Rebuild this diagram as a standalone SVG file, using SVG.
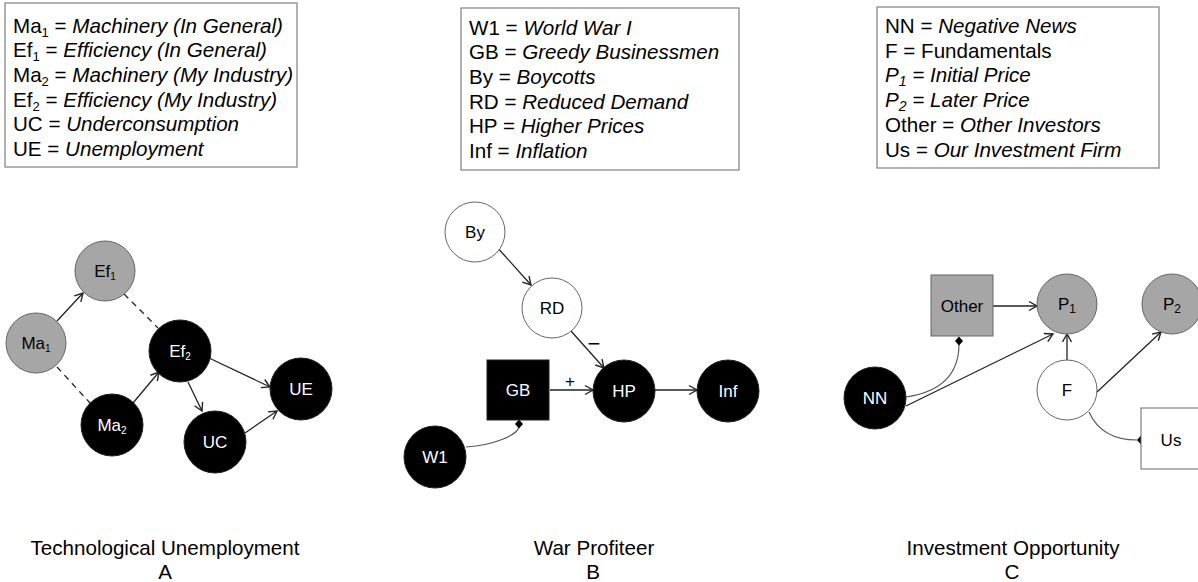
<svg xmlns="http://www.w3.org/2000/svg" width="1198" height="582" viewBox="0 0 1198 582">
<style>
  text { font-family: "Liberation Sans", Arial, sans-serif; fill: #000; }
  .legend { font-size: 20.6px; }
  .it { font-style: italic; }
  .box { fill: #fff; stroke: #7f7f7f; stroke-width: 1.2; }
  .gray { fill: #a6a6a6; stroke: #666; stroke-width: 1; }
  .white { fill: #fff; stroke: #666; stroke-width: 1; }
  .black { fill: #000; stroke: #222; stroke-width: 1; }
  .lbl { font-size: 17px; text-anchor: middle; }
  .wl { fill: #fff; }
  .edge { fill: none; stroke: #222; stroke-width: 1.3; }
  .arrow { marker-end: url(#arr); }
  .dash { stroke-dasharray: 6 5; }
  .curve { fill: none; stroke: #555; stroke-width: 1.1; }
  .dia { fill: #000; }
  .title { font-size: 20.6px; text-anchor: middle; }
</style>
<defs>
  <marker id="arr" markerUnits="userSpaceOnUse" markerWidth="12" markerHeight="12" viewBox="-10 -6 12 12" refX="0" refY="0" orient="auto">
    <path d="M-8,-4.5 L0,0 L-8,4.5" fill="none" stroke="#222" stroke-width="1.4"/>
  </marker>
</defs>
<rect width="1198" height="582" fill="#fff"/>

<!-- Legends -->
<g id="legendA">
  <rect class="box" x="5" y="3" width="292" height="164"/>
  <text class="legend" x="13" y="32.5">Ma<tspan font-size="13" dy="4">1</tspan><tspan dy="-4"> = </tspan><tspan class="it">Machinery (In General)</tspan></text>
  <text class="legend" x="13" y="57.2">Ef<tspan font-size="13" dy="4">1</tspan><tspan dy="-4"> = </tspan><tspan class="it">Efficiency (In General)</tspan></text>
  <text class="legend" x="13" y="81.9">Ma<tspan font-size="13" dy="4">2</tspan><tspan dy="-4"> = </tspan><tspan class="it">Machinery (My Industry)</tspan></text>
  <text class="legend" x="13" y="106.6">Ef<tspan font-size="13" dy="4">2</tspan><tspan dy="-4"> = </tspan><tspan class="it">Efficiency (My Industry)</tspan></text>
  <text class="legend" x="13" y="131.3">UC = <tspan class="it">Underconsumption</tspan></text>
  <text class="legend" x="13" y="156">UE = <tspan class="it">Unemployment</tspan></text>
</g>
<g id="legendB">
  <rect class="box" x="461" y="8" width="278" height="162"/>
  <text class="legend" x="469" y="34.5">W1 = <tspan class="it">World War I</tspan></text>
  <text class="legend" x="469" y="59.2">GB = <tspan class="it">Greedy Businessmen</tspan></text>
  <text class="legend" x="469" y="83.9">By = <tspan class="it">Boycotts</tspan></text>
  <text class="legend" x="469" y="108.6">RD = <tspan class="it">Reduced Demand</tspan></text>
  <text class="legend" x="469" y="133.3">HP = <tspan class="it">Higher Prices</tspan></text>
  <text class="legend" x="469" y="158">Inf = <tspan class="it">Inflation</tspan></text>
</g>
<g id="legendC">
  <rect class="box" x="877" y="7" width="282" height="161"/>
  <text class="legend" x="885" y="33">NN = <tspan class="it">Negative News</tspan></text>
  <text class="legend" x="885" y="57.7">F = Fundamentals</text>
  <text class="legend it" x="885" y="82.4">P<tspan font-size="14" dy="4">1</tspan><tspan dy="-4"> = Initial Price</tspan></text>
  <text class="legend it" x="885" y="107.1">P<tspan font-size="14" dy="4">2</tspan><tspan dy="-4"> = Later Price</tspan></text>
  <text class="legend" x="885" y="131.8">Other = <tspan class="it">Other Investors</tspan></text>
  <text class="legend" x="885" y="156.5">Us = <tspan class="it">Our Investment Firm</tspan></text>
</g>

<!-- Connectors -->
<g id="connectors">
  <!-- A -->
  <line class="edge arrow" x1="57" y1="321" x2="83" y2="293"/>
  <line class="edge dash" x1="124" y1="294" x2="158" y2="328"/>
  <line class="edge dash" x1="57" y1="367" x2="90" y2="403"/>
  <line class="edge arrow" x1="133" y1="403" x2="159" y2="372"/>
  <line class="edge arrow" x1="209" y1="358" x2="270" y2="387"/>
  <line class="edge arrow" x1="188" y1="382" x2="202" y2="411"/>
  <line class="edge arrow" x1="245" y1="433" x2="277" y2="411"/>
  <!-- B -->
  <line class="edge arrow" x1="496" y1="246" x2="531" y2="285"/>
  <line class="edge arrow" x1="571" y1="331" x2="604" y2="368"/>
  <line class="edge arrow" x1="550" y1="390" x2="593" y2="390"/>
  <line class="edge arrow" x1="655" y1="390" x2="697" y2="390"/>
  <path class="curve" d="M466,447 C495,445 517,435 519,427"/>
  <polygon class="dia" points="519,419.5 523,424 519,428.5 515,424"/>
  <text x="594" y="351" font-size="22" text-anchor="middle">−</text>
  <text x="570" y="387" font-size="17" text-anchor="middle">+</text>
  <!-- C -->
  <line class="edge arrow" x1="993" y1="306" x2="1037" y2="306"/>
  <line class="edge arrow" x1="906" y1="406" x2="1053" y2="334"/>
  <line class="edge arrow" x1="1067" y1="360" x2="1067" y2="334"/>
  <line class="edge arrow" x1="1097" y1="392" x2="1161" y2="332"/>
  <path class="curve" d="M906,397 C940,392 959,375 959,344"/>
  <polygon class="dia" points="959,336.5 963,341 959,345.5 955,341"/>
  <path class="curve" d="M1089,412 C1098,432 1115,440 1137,440"/>
  <polygon class="dia" points="1141,435.5 1145,440 1141,444.5 1137,440"/>
</g>

<!-- Nodes A -->
<g id="Ef1"><circle class="gray" cx="105" cy="271" r="30"/><text class="lbl" x="105" y="277">Ef<tspan font-size="10" dy="3">1</tspan></text></g>
<g id="Ma1"><circle class="gray" cx="36" cy="343" r="30"/><text class="lbl" x="36" y="349">Ma<tspan font-size="10" dy="3">1</tspan></text></g>
<g id="Ef2"><circle class="black" cx="180" cy="351" r="31"/><text class="lbl wl" x="180" y="357">Ef<tspan font-size="10" dy="3">2</tspan></text></g>
<g id="Ma2"><circle class="black" cx="112" cy="425" r="31"/><text class="lbl wl" x="112" y="431">Ma<tspan font-size="10" dy="3">2</tspan></text></g>
<g id="UE"><circle class="black" cx="301" cy="389" r="31"/><text class="lbl wl" x="301" y="395">UE</text></g>
<g id="UC"><circle class="black" cx="215" cy="442" r="31"/><text class="lbl wl" x="215" y="448">UC</text></g>

<!-- Nodes B -->
<g id="By"><circle class="white" cx="475" cy="232" r="30"/><text class="lbl" x="475" y="238">By</text></g>
<g id="RD"><circle class="white" cx="552" cy="308" r="30"/><text class="lbl" x="552" y="314">RD</text></g>
<g id="GB"><rect class="black" x="487" y="360" width="62" height="60"/><text class="lbl wl" x="518" y="396">GB</text></g>
<g id="HP"><circle class="black" cx="624" cy="391" r="31"/><text class="lbl wl" x="624" y="397">HP</text></g>
<g id="Inf"><circle class="black" cx="728" cy="391" r="31"/><text class="lbl wl" x="728" y="397">Inf</text></g>
<g id="W1"><circle class="black" cx="435" cy="457" r="31"/><text class="lbl wl" x="435" y="463">W1</text></g>

<!-- Nodes C -->
<g id="Other"><rect class="gray" x="931" y="275" width="62" height="61"/><text class="lbl" x="962" y="312">Other</text></g>
<g id="P1"><circle class="gray" cx="1067" cy="304" r="30"/><text class="lbl" x="1067" y="310">P<tspan font-size="12" dy="3">1</tspan></text></g>
<g id="P2"><circle class="gray" cx="1172" cy="304" r="30"/><text class="lbl" x="1172" y="310">P<tspan font-size="12" dy="3">2</tspan></text></g>
<g id="NN"><circle class="black" cx="875" cy="398" r="31"/><text class="lbl wl" x="875" y="404">NN</text></g>
<g id="F"><circle class="white" cx="1067" cy="390" r="30"/><text class="lbl" x="1067" y="396">F</text></g>
<g id="Us"><rect class="white" x="1141" y="408" width="62" height="61"/><text class="lbl" x="1171" y="446">Us</text></g>

<!-- Titles -->
<g id="titles">
  <text class="title" x="165" y="555">Technological Unemployment</text>
  <text class="title" x="165" y="579">A</text>
  <text class="title" x="594" y="555">War Profiteer</text>
  <text class="title" x="593" y="579">B</text>
  <text class="title" x="1013" y="555">Investment Opportunity</text>
  <text class="title" x="1012" y="579">C</text>
</g>
</svg>
